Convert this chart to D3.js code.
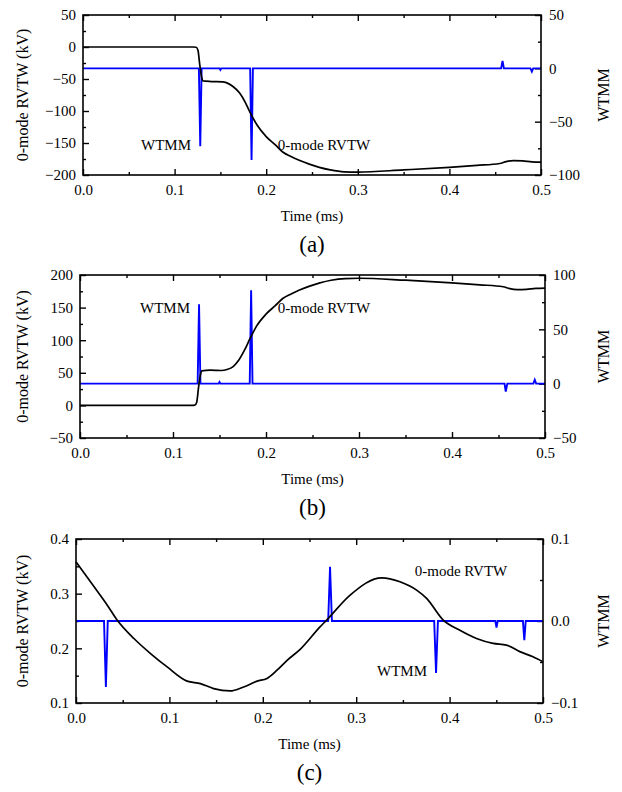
<!DOCTYPE html>
<html>
<head>
<meta charset="utf-8">
<script src="https://cdn.jsdelivr.net/npm/d3@7"></script>
<style>
  body { margin: 0; background: #fff; }
  svg { font-family: "Liberation Serif", "Times New Roman", serif; }
</style>
</head>
<body>
<div id="chart"></div>
<script>
// ---- data ----
// panel (a): 0-mode RVTW (kV) and WTMM
const rvtwA = [[0,0],[0.12,0],[0.1235,-0.4],[0.1255,-5],[0.1275,-28],[0.1295,-47],[0.131,-53],[0.14,-54],[0.152,-54.5],[0.157,-56],
  [0.163,-61],[0.171,-72],[0.177,-86],[0.182,-101],[0.19,-122],[0.2,-140],[0.21,-153],[0.218,-164],[0.227,-171],[0.236,-177],
  [0.247,-183],[0.258,-188],[0.27,-192],[0.285,-195],[0.3,-195.5],[0.35,-192],[0.4,-188],[0.43,-185],[0.455,-182],[0.462,-179],
  [0.47,-177.5],[0.48,-178],[0.49,-179.5],[0.5,-180]];
const wtmmA = [[0,0],[0.1265,0],[0.128,-73],[0.1295,0],[0.149,0],[0.150,-1.5],[0.151,0],[0.1825,0],[0.184,-86],[0.1855,0],
  [0.4565,0],[0.458,7],[0.4595,0],[0.4885,0],[0.49,-3],[0.4915,0],[0.5,0]];

// panel (b)
const rvtwB = [[0,0],[0.12,0],[0.1235,0.4],[0.1255,5],[0.1275,28],[0.1295,47],[0.131,53],[0.14,54],[0.152,53.5],[0.158,55],
  [0.165,60],[0.171,70],[0.177,85],[0.183,103],[0.19,122],[0.2,140],[0.21,153],[0.218,164],[0.227,171],[0.236,177],
  [0.247,183],[0.258,188],[0.27,192],[0.285,194.5],[0.3,195],[0.35,192],[0.4,188],[0.43,185],[0.455,182],[0.462,179],
  [0.47,177.5],[0.48,178],[0.49,179.5],[0.5,180]];
const wtmmB = [[0,0],[0.1265,0],[0.128,73],[0.1295,0],[0.149,0],[0.150,1.5],[0.151,0],[0.1825,0],[0.184,86],[0.1855,0],
  [0.4565,0],[0.4578,-7.2],[0.4595,0],[0.4875,0],[0.489,3.6],[0.4905,0],[0.5,0]];

// panel (c)
const rvtwC = [[0,0.358],[0.0192,0.313],[0.0335,0.279],[0.0442,0.2515],[0.062,0.218],[0.0798,0.1905],[0.0976,0.166],
  [0.119,0.140],[0.1332,0.1355],[0.1474,0.1263],[0.165,0.122],[0.1795,0.1294],[0.194,0.14],[0.2045,0.145],[0.2152,0.160],
  [0.226,0.178],[0.240,0.198],[0.2615,0.2396],[0.2686,0.252],[0.2935,0.2974],[0.3273,0.329],[0.3469,0.3217],[0.3647,0.3065],
  [0.3754,0.2913],[0.3932,0.2515],[0.411,0.233],[0.4288,0.218],[0.4466,0.209],[0.4609,0.206],[0.4751,0.194],[0.4893,0.1845],
  [0.5,0.1753]];
const wtmmC = [[0,0],[0.030,0],[0.032,-0.0805],[0.034,0],[0.270,0],[0.272,0.066],[0.274,0],[0.3835,0],[0.3855,-0.0633],
  [0.3875,0],[0.449,0],[0.4502,-0.008],[0.4515,0],[0.4785,0],[0.480,-0.0235],[0.4815,0],[0.5,0]];

// tick labels
const timeTicks = [0, 0.1, 0.2, 0.3, 0.4, 0.5];
const leftTicksA = [-200, -150, -100, -50, 0, 50];
const rightTicksA = [-100, -50, 0, 50];
const leftTicksB = [-50, 0, 50, 100, 150, 200];
const rightTicksB = [-50, 0, 50, 100];
const leftTicksC = [0.1, 0.2, 0.3, 0.4];
const rightTicksC = [-0.1, 0.0, 0.1];

const panels = [
  {name: "(a)", box: {l: 83, r: 541, t: 15, b: 175}, rvtw: rvtwA, wtmm: wtmmA,
   left: leftTicksA, right: rightTicksA, fmtL: d3.format("d"), fmtR: d3.format("d"),
   labels: [{text: "WTMM", x: 166, y: 150}, {text: "0-mode RVTW", x: 324, y: 150}]},
  {name: "(b)", box: {l: 80, r: 545, t: 275, b: 438}, rvtw: rvtwB, wtmm: wtmmB,
   left: leftTicksB, right: rightTicksB, fmtL: d3.format("d"), fmtR: d3.format("d"),
   labels: [{text: "WTMM", x: 165, y: 313}, {text: "0-mode RVTW", x: 324, y: 313}]},
  {name: "(c)", box: {l: 76, r: 543, t: 539, b: 703}, rvtw: rvtwC, wtmm: wtmmC,
   left: leftTicksC, right: rightTicksC, fmtL: d3.format(".1f"), fmtR: d3.format(".1f"),
   labels: [{text: "0-mode RVTW", x: 461, y: 576}, {text: "WTMM", x: 402, y: 676}]}
];

const svg = d3.select("#chart").append("svg")
  .attr("width", 622).attr("height", 792);

function midpoints(vals) {
  const out = [];
  for (let i = 0; i < vals.length - 1; i++) out.push((vals[i] + vals[i + 1]) / 2);
  return out;
}

function styleAxis(g) {
  g.select(".domain").remove();
  g.selectAll("line").attr("stroke", "#000").attr("stroke-width", 1.4);
  g.selectAll("text").attr("fill", "#000").style("font-size", "15px")
    .style("font-family", "Liberation Serif, serif");
}

panels.forEach(p => {
  const {l, r, t, b} = p.box;
  const x = d3.scaleLinear().domain([0, 0.5]).range([l, r]);
  const yL = d3.scaleLinear().domain(d3.extent(p.left)).range([b, t]);
  const yR = d3.scaleLinear().domain(d3.extent(p.right)).range([b, t]);
  const g = svg.append("g");

  // bottom axis (major + minor) and mirrored top ticks
  g.append("g").attr("transform", `translate(0,${b})`)
    .call(d3.axisBottom(x).tickValues(timeTicks).tickFormat(d3.format(".1f")).tickSize(-6).tickPadding(9))
    .call(styleAxis);
  g.append("g").attr("transform", `translate(0,${b})`)
    .call(d3.axisBottom(x).tickValues(midpoints(timeTicks)).tickFormat("").tickSize(-3))
    .call(styleAxis);
  g.append("g").attr("transform", `translate(0,${t})`)
    .call(d3.axisTop(x).tickValues(timeTicks).tickFormat("").tickSize(-6))
    .call(styleAxis);
  g.append("g").attr("transform", `translate(0,${t})`)
    .call(d3.axisTop(x).tickValues(midpoints(timeTicks)).tickFormat("").tickSize(-3))
    .call(styleAxis);

  // left axis
  g.append("g").attr("transform", `translate(${l},0)`)
    .call(d3.axisLeft(yL).tickValues(p.left).tickFormat(p.fmtL).tickSize(-6).tickPadding(7))
    .call(styleAxis);
  g.append("g").attr("transform", `translate(${l},0)`)
    .call(d3.axisLeft(yL).tickValues(midpoints(p.left)).tickFormat("").tickSize(-3))
    .call(styleAxis);

  // right axis
  g.append("g").attr("transform", `translate(${r},0)`)
    .call(d3.axisRight(yR).tickValues(p.right).tickFormat(p.fmtR).tickSize(-6).tickPadding(8))
    .call(styleAxis);
  g.append("g").attr("transform", `translate(${r},0)`)
    .call(d3.axisRight(yR).tickValues(midpoints(p.right)).tickFormat("").tickSize(-3))
    .call(styleAxis);

  // lines
  const lineL = d3.line().x(d => x(d[0])).y(d => yL(d[1])).curve(d3.curveMonotoneX);
  const lineR = d3.line().x(d => x(d[0])).y(d => yR(d[1]));

  g.append("path").datum(p.wtmm).attr("d", lineR)
    .attr("fill", "none").attr("stroke", "#0000ff").attr("stroke-width", 1.9);
  g.append("path").datum(p.rvtw).attr("d", lineL)
    .attr("fill", "none").attr("stroke", "#000").attr("stroke-width", 1.7);

  // frame
  g.append("rect").attr("x", l).attr("y", t).attr("width", r - l).attr("height", b - t)
    .attr("fill", "none").attr("stroke", "#000").attr("stroke-width", 1.6);

  // in-plot labels
  p.labels.forEach(lb => {
    g.append("text").attr("x", lb.x).attr("y", lb.y).attr("text-anchor", "middle")
      .style("font-size", "15px").text(lb.text);
  });

  // axis titles
  const cy = (t + b) / 2;
  g.append("text").attr("transform", `translate(28,${cy}) rotate(-90)`)
    .attr("text-anchor", "middle").style("font-size", "16px").text("0-mode RVTW (kV)");
  g.append("text").attr("transform", `translate(609,${cy}) rotate(-90)`)
    .attr("text-anchor", "middle").style("font-size", "16px").text("WTMM");
  g.append("text").attr("x", (l + r) / 2).attr("y", b + 46)
    .attr("text-anchor", "middle").style("font-size", "15px").text("Time (ms)");
  g.append("text").attr("x", (l + r) / 2).attr("y", b + 77)
    .attr("text-anchor", "middle").style("font-size", "23px").text(p.name);
});
</script>
</body>
</html>
